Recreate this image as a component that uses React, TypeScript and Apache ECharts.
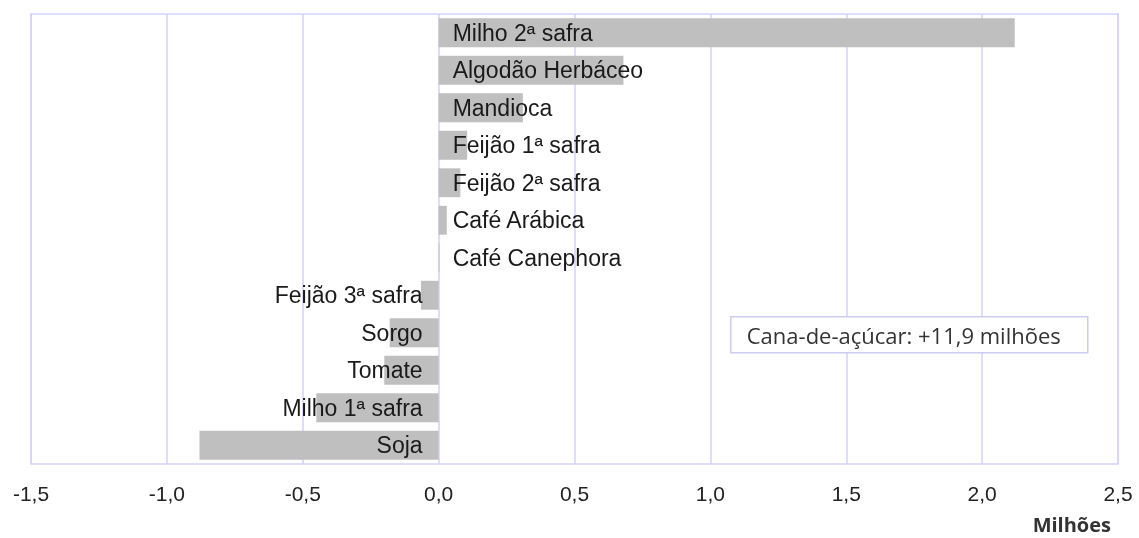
import React, { useEffect, useRef } from "react";
import * as echarts from "echarts";

const categories = [
  "Milho 2ª safra",
  "Algodão Herbáceo",
  "Mandioca",
  "Feijão 1ª safra",
  "Feijão 2ª safra",
  "Café Arábica",
  "Café Canephora",
  "Feijão 3ª safra",
  "Sorgo",
  "Tomate",
  "Milho 1ª safra",
  "Soja",
];
const values = [2.12, 0.68, 0.31, 0.105, 0.08, 0.03, 0.003, -0.065, -0.18, -0.2, -0.45, -0.88];
const xMin = -1.5;
const xMax = 2.5;
const xStep = 0.5;
const axisUnit = "Milhões";
const note = "Cana-de-açúcar: +11,9 milhões";

const grid = "#d2d2ff";

export default function App() {
  const ref = useRef<HTMLDivElement>(null);
  useEffect(() => {
    if (!ref.current) return;
    const chart = echarts.init(ref.current, null, { renderer: "svg" });
    chart.setOption({
      animation: false,
      grid: {
        left: 31,
        right: 21,
        top: 14,
        bottom: 74,
        show: true,
        borderColor: grid,
        borderWidth: 1.5,
        backgroundColor: "#ffffff",
      },
      xAxis: {
        type: "value",
        min: xMin,
        max: xMax,
        interval: xStep,
        axisLine: { show: false },
        axisTick: { show: false },
        splitLine: { show: true, lineStyle: { color: grid, width: 1.5 } },
        axisLabel: {
          margin: 19,
          fontFamily: "Liberation Sans, Arial, sans-serif",
          fontSize: 21,
          color: "#222",
          formatter: (v: number) => v.toFixed(1).replace(".", ","),
        },
      },
      yAxis: {
        type: "category",
        data: categories,
        inverse: true,
        axisLine: { show: false },
        axisTick: { show: false },
        axisLabel: { show: false },
        splitLine: { show: false },
      },
      series: [
        {
          type: "bar",
          barCategoryGap: "23%",
          itemStyle: { color: "#bfbfbf" },
          data: values.map((v) => ({
            value: v,
            label: {
              position: v >= 0 ? "insideLeft" : "insideRight",
              distance: v >= 0 ? 14 : 16,
            },
          })),
          label: {
            show: true,
            formatter: "{b}",
            fontFamily: "Liberation Sans, Arial, sans-serif",
            fontSize: 23,
            color: "#1a1a1a",
          },
        },
      ],
      graphic: [
        {
          type: "group",
          left: 730,
          top: 316,
          z: 100,
          children: [
            {
              type: "rect",
              z: 100,
              shape: { x: 0, y: 0, width: 357, height: 36 },
              style: { fill: "#ffffff", stroke: "#ccccee", lineWidth: 1.5 },
            },
            {
              type: "text",
              z: 101,
              x: 16,
              y: 18,
              style: {
                text: note,
                fontFamily: "Open Sans, sans-serif",
                fontSize: 22,
                fill: "#333",
                verticalAlign: "middle",
              },
            },
          ],
        },
        {
          type: "text",
          right: 28,
          top: 514,
          z: 100,
          style: {
            text: axisUnit,
            fontFamily: "Open Sans, sans-serif",
            fontSize: 20,
            fontWeight: "bold",
            fill: "#333",
          },
        },
      ],
    });
    return () => chart.dispose();
  }, []);
  return (
    <div
      ref={ref}
      style={{ position: "fixed", left: 0, top: 0, width: 1139, height: 538 }}
    />
  );
}
